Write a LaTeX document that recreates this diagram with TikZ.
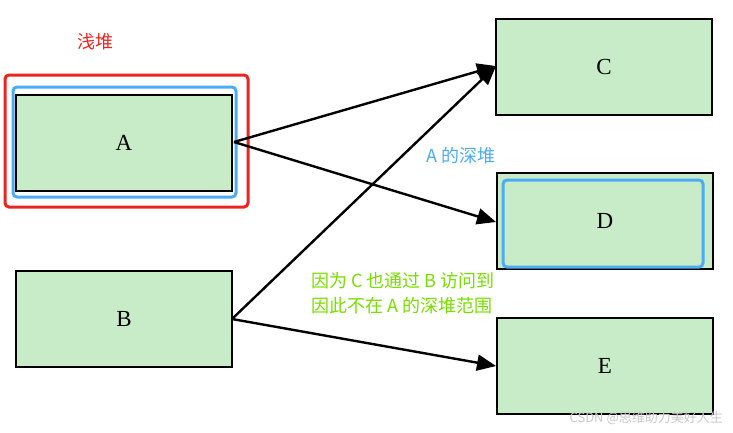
\documentclass[tikz,border=0pt]{standalone}
\usepackage{fontspec}
\setmainfont{Liberation Serif}
\newfontfamily\cjk{Noto Sans CJK SC}
\usetikzlibrary{arrows.meta}
\definecolor{boxfill}{RGB}{200,235,200}
\definecolor{hlred}{RGB}{235,35,35}
\definecolor{hlblue}{RGB}{75,172,245}
\definecolor{hlgreen}{RGB}{120,222,0}
\definecolor{wmgray}{RGB}{200,200,200}
\newcommand{\gapsp}{\hspace{4pt}}
\tikzset{
  objbox/.style={draw=black, line width=2.2pt, fill=boxfill, minimum width=216pt, minimum height=96pt, inner sep=0pt, font=\fontsize{23}{26}\selectfont},
  edge/.style={line width=2.4pt, -{Triangle[length=19pt,width=16pt]}, shorten >=0pt},
  ring/.style={rounded corners=4pt, line width=3pt},
}
\begin{document}
\begin{tikzpicture}[x=1pt,y=-1pt]
\useasboundingbox (0,0) rectangle (733,432);
\node[objbox] (A) at (124,143) {A};
\node[objbox] (B) at (124,319) {B};
\node[objbox] (C) at (604,67) {C};
\node[objbox] (D) at (605,221) {D};
\node[objbox] (E) at (605,366) {E};
% highlight rings
\draw[ring, hlred] (5,75) rectangle (248,207);
\draw[ring, hlblue] (13,87) rectangle (236,197);
\draw[ring, hlblue] (503,180) rectangle (703,267);
% labels
\node[text=hlred, font=\cjk\fontsize{18}{20}\selectfont] (shallow) at (95,42) {浅堆};
\node[text=hlblue, font=\cjk\fontsize{18}{20}\selectfont] (deep) at (461,156) {A\gapsp 的深堆};
\node[text=hlgreen, font=\cjk\fontsize{18}{25}\selectfont, align=left, anchor=north west, inner sep=0pt] (note) at (311,272) {因为\gapsp C\gapsp 也通过\gapsp B\gapsp 访问到\\因此不在\gapsp A\gapsp 的深堆范围};
\node[text=wmgray, font=\cjk\fontsize{13}{14}\selectfont, anchor=east, inner sep=0pt] (wm) at (723,418) {CSDN @思维助力美好人生};
% connectors
\coordinate (Ao) at (234,142);
\coordinate (Bo) at (232,319);
\coordinate (Ci) at (496,66);
\coordinate (Di) at (496,222);
\coordinate (Ei) at (496,366);
\draw[edge] (Ao) -- (Ci);
\draw[edge] (Ao) -- (Di);
\draw[edge] (Bo) -- (Ci);
\draw[edge] (Bo) -- (Ei);
\end{tikzpicture}
\end{document}
